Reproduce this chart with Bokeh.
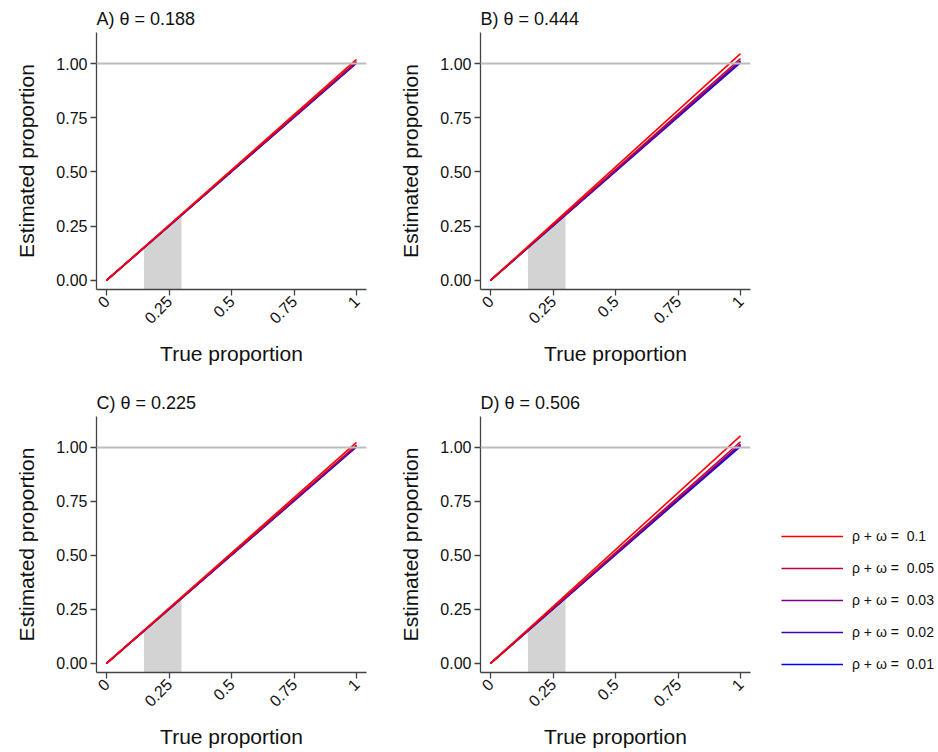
from math import pi
from bokeh.plotting import figure
from bokeh.layouts import column, row
from bokeh.models import Span, Legend, LegendItem, NumeralTickFormatter, FixedTicker
from bokeh.embed import file_html
from bokeh.resources import INLINE

# ---------------- data ----------------
true_prop = [0.0, 1.0]
series_labels = ["ρ + ω =  0.1", "ρ + ω =  0.05", "ρ + ω =  0.03", "ρ + ω =  0.02", "ρ + ω =  0.01"]
series_colors = ["#FF0000", "#C0003F", "#80007F", "#4000C0", "#0000FF"]

panel_titles = ["A) θ = 0.188", "B) θ = 0.444", "C) θ = 0.225", "D) θ = 0.506"]
# estimated proportion at true proportion = 1 (lines start at 0)
end_A = [1.019, 1.009, 1.006, 1.004, 1.002]
end_B = [1.046, 1.023, 1.013, 1.009, 1.004]
end_C = [1.023, 1.011, 1.007, 1.005, 1.002]
end_D = [1.053, 1.026, 1.015, 1.010, 1.005]
panel_ends = [end_A, end_B, end_C, end_D]

shade_x = [0.15, 0.30]
ref_level = 1.0
tick_vals = [0, 0.25, 0.5, 0.75, 1]

X_RANGE = (-0.04, 1.04)
Y_RANGE = (-0.042, 1.143)

FONT = "Liberation Sans"


def make_panel(idx, top, fh, bottom, right, legend=False):
    p = figure(frame_width=270, frame_height=fh, x_range=X_RANGE, y_range=Y_RANGE,
               output_backend="svg", toolbar_location=None,
               min_border_left=96, min_border_right=right, min_border_top=top,
               min_border_bottom=bottom, outline_line_color=None,
               background_fill_color="white", border_fill_color="white")
    p.grid.visible = False
    p.title.text = panel_titles[idx]
    p.title.text_font = FONT
    p.title.text_font_size = "18px"
    p.title.text_font_style = "normal"
    p.title.text_color = "#111111"
    p.title.align = "left"
    p.title.standoff = 7

    # shaded region under the identity line
    p.varea(x=shade_x, y1=[Y_RANGE[0]] * len(shade_x), y2=shade_x, fill_color="#D3D3D3")
    p.add_layout(Span(location=ref_level, dimension="width", line_color="#BEBEBE", line_width=2))

    renderers = []
    ends = panel_ends[idx]
    for k in range(len(series_labels) - 1, -1, -1):
        r = p.line(true_prop, [0.0, ends[k]], line_color=series_colors[k], line_width=1.6)
        renderers.append((k, r))

    for ax in (p.xaxis[0], p.yaxis[0]):
        ax.axis_line_color = "#444444"
        ax.axis_line_width = 1.3
        ax.major_tick_line_color = "#444444"
        ax.major_tick_line_width = 1.3
        ax.major_tick_out = 6
        ax.major_tick_in = 0
        ax.minor_tick_line_color = None
        ax.major_label_text_font = FONT
        ax.major_label_text_font_size = "16px"
        ax.major_label_text_color = "#111111"
        ax.major_label_standoff = 3
        ax.axis_label_text_font = FONT
        ax.axis_label_text_font_size = "21px"
        ax.axis_label_text_font_style = "normal"
        ax.axis_label_text_color = "#111111"
        ax.ticker = FixedTicker(ticks=tick_vals)

    p.xaxis.axis_label = "True proportion"
    p.yaxis.axis_label = "Estimated proportion"
    p.xaxis.formatter = NumeralTickFormatter(format="0.[00]")
    p.yaxis.formatter = NumeralTickFormatter(format="0.00")
    p.xaxis.major_label_orientation = pi / 4
    p.xaxis.axis_label_standoff = 10
    p.yaxis.axis_label_standoff = 15

    if legend:
        rmap = dict(renderers)
        items = [LegendItem(label=series_labels[k], renderers=[rmap[k]]) for k in range(len(series_labels))]
        leg = Legend(items=items, location=(31, -2), orientation="vertical",
                     glyph_width=62, glyph_height=20, label_height=20, spacing=12,
                     label_standoff=9, padding=0, margin=0,
                     label_text_font=FONT, label_text_font_size="14px", label_text_color="#111111",
                     border_line_color=None, background_fill_alpha=0)
        p.add_layout(leg, "right")
    return p


pA = make_panel(0, 32, 257, 95, 18)
pB = make_panel(1, 32, 257, 95, 18)
pC = make_panel(2, 32, 256, 78, 18)
pD = make_panel(3, 32, 256, 78, 186, legend=True)

layout = column(row(pA, pB, spacing=0), row(pC, pD, spacing=0), spacing=0)

with open("out.html", "w") as f:
    f.write(file_html(layout, INLINE))
